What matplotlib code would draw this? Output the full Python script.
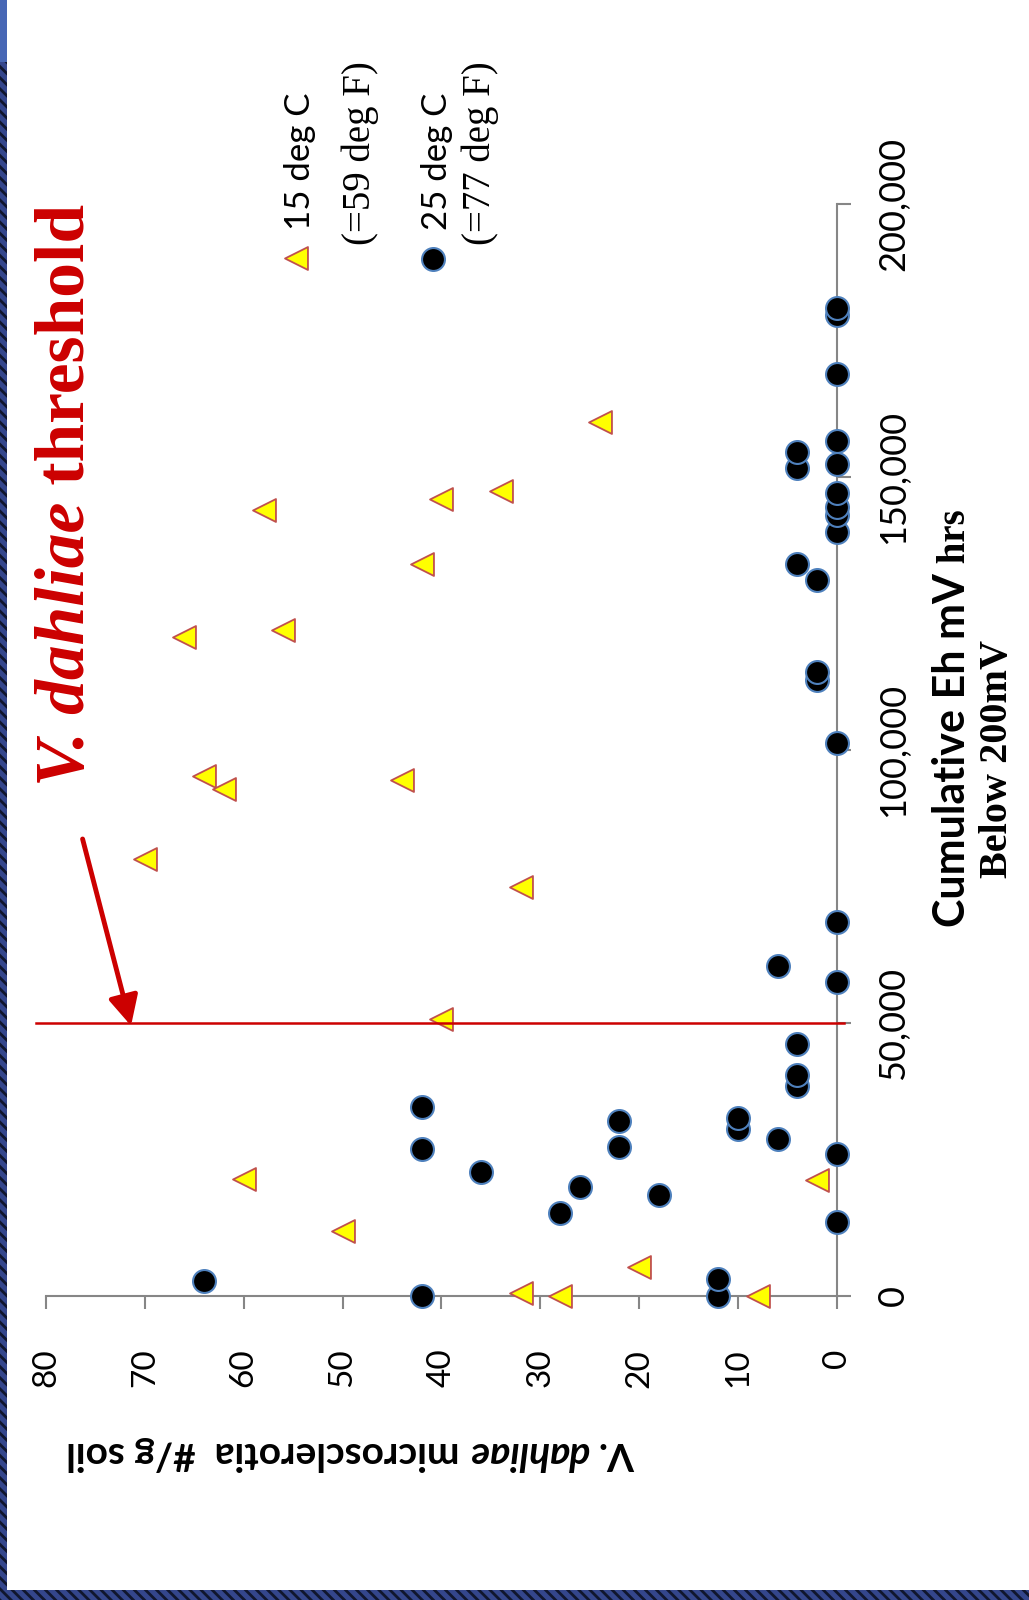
import matplotlib
matplotlib.use('Agg')
import matplotlib.pyplot as plt
from matplotlib.patches import Rectangle
from matplotlib.ticker import FuncFormatter

plt.rcParams['font.family'] = ['Lato', 'DejaVu Sans']
plt.rcParams['hatch.linewidth'] = 2.0

# cumulative Eh mV hrs below 200 mV vs. microsclerotia per g soil
hours_15c = [160000, 144000, 146000, 147500, 134000, 120700, 122000, 95200, 92800,
             94500, 80000, 75000, 50700, 21500, 11900, 5300, 21300, 500, 0, 0]
scl_15c = [24, 58, 40, 34, 42, 66, 56, 64, 62,
           44, 70, 32, 40, 60, 50, 20, 2, 32, 28, 8]

hours_25c = [2700, 0, 0, 3100, 13600, 26000, 15200, 20000, 18500, 22650,
             27000, 34700, 27200, 32100, 30600, 32600, 28800, 38400, 40500, 46200,
             60500, 57600, 68500, 101200, 112800, 114200, 131100, 134000, 139900, 143000,
             144500, 147000, 151600, 154500, 152400, 156600, 168900, 179600, 181000]
scl_25c = [64, 42, 12, 12, 0, 0, 28, 26, 18, 36,
           42, 42, 22, 22, 10, 10, 6, 4, 4, 4,
           6, 0, 0, 0, 2, 2, 2, 4, 0, 0,
           0, 0, 4, 4, 0, 0, 0, 0, 0]

threshold = 50000
y_ticks = list(range(0, 81, 10))
x_ticks = [0, 50000, 100000, 150000, 200000]

W, H = 1029, 1600
fig = plt.figure(figsize=(W / 100, H / 100), dpi=100)
fig.patch.set_facecolor('white')


def fp(x, y):
    # image pixel (y down) -> figure fraction
    return x / W, 1 - y / H


# whole chart is turned on its side: hours run upward, counts run leftward
ax = fig.add_axes([46 / W, 1 - 1296 / H, (837 - 46) / W, (1296 - 204) / H])
ax.set_xlim(80, 0)
ax.set_ylim(0, 200000)

circ = dict(marker='o', s=16.5 ** 2, c='black', edgecolors='#4F81BD', linewidths=1.5)
tri = dict(marker='<', s=16.5 ** 2, c='#FFFF00', edgecolors='#C0504D', linewidths=1.3)

ax.scatter(scl_25c, hours_25c, zorder=3, clip_on=False, **circ)
ax.scatter(scl_15c, hours_15c, zorder=4, clip_on=False, **tri)

ax.plot([-0.7, 81], [threshold, threshold], color='#CC0000', lw=1.8,
        clip_on=False, zorder=5)
ax.annotate('', xy=(71.4, threshold - 500), xytext=(76.3, 83700),
            arrowprops=dict(arrowstyle='-|>,head_length=0.9,head_width=0.45',
                            color='#CC0000', lw=3.5, mutation_scale=20,
                            shrinkA=0, shrinkB=0),
            annotation_clip=False)

for s in ['top', 'left']:
    ax.spines[s].set_visible(False)
for s in ['bottom', 'right']:
    ax.spines[s].set_color('#868686')
    ax.spines[s].set_linewidth(1.5)

ax.set_xticks(y_ticks)
ax.set_yticks(x_ticks)
ax.yaxis.tick_right()
ax.yaxis.set_major_formatter(FuncFormatter(lambda v, p: f'{int(v):,}'))
ax.tick_params(axis='x', direction='out', length=9, width=1.5, color='#868686',
               labelsize=24, labelrotation=90, pad=29)
ax.tick_params(axis='y', direction='out', length=10, width=1.5, color='#868686',
               labelsize=26, labelrotation=90, pad=19)
plt.setp(ax.get_yticklabels(), va='center')

# legend keys
ax.scatter([0.316], [0.951], transform=ax.transAxes, clip_on=False, **tri)
ax.scatter([0.489], [0.950], transform=ax.transAxes, clip_on=False, **circ)

renderer = fig.canvas.get_renderer()


def text_run(x, y, pieces, rot):
    # lay text pieces end to end along the rotated baseline
    for s, kw in pieces:
        t = fig.text(*fp(x, y), s, rotation=rot, rotation_mode='anchor',
                     ha='left', va='baseline', **kw)
        bb = t.get_window_extent(renderer)
        if rot == 90:
            y -= bb.height
        else:
            x -= bb.width


serif = ['Liberation Serif', 'DejaVu Serif']
red = '#CC0000'

text_run(84, 786, [('V. dahliae', dict(family=serif, weight='bold', style='italic', size=50, color=red)),
                   (' threshold', dict(family=serif, weight='bold', size=50, color=red))], 90)

text_run(310, 230, [('15 deg C', dict(size=25))], 90)
text_run(370, 245, [('(=59 deg F)', dict(family=serif, size=28))], 90)
text_run(447, 230, [('25 deg C', dict(size=25))], 90)
text_run(490, 245, [('(=77 deg F)', dict(family=serif, size=28))], 90)

text_run(965, 927, [('Cumulative Eh mV', dict(weight='bold', size=31)),
                    (' hrs', dict(family=serif, weight='bold', size=28))], 90)
text_run(1007, 878, [('Below 200mV', dict(family=serif, weight='bold', size=29))], 90)

text_run(635, 1442, [('V. ', dict(weight='bold', size=28)),
                     ('dahliae', dict(weight='bold', style='italic', size=28)),
                     (' microsclerotia  #/g soil', dict(weight='bold', size=28))], 180)

# slide frame strips
fig.patches.append(Rectangle(fp(0, 62), 7 / W, 62 / H, transform=fig.transFigure,
                             facecolor='#4767B5', edgecolor='none', zorder=10))
fig.patches.append(Rectangle(fp(0, 1600), 7 / W, (1600 - 62) / H, transform=fig.transFigure,
                             facecolor='#34468C', edgecolor='#10162E', hatch='\\\\\\',
                             lw=0, zorder=10))
fig.patches.append(Rectangle(fp(0, 1600), 1, 10 / H, transform=fig.transFigure,
                             facecolor='#34468C', edgecolor='#10162E', hatch='\\\\\\',
                             lw=0, zorder=10))

fig.savefig('out.png', dpi=100, facecolor='white')
